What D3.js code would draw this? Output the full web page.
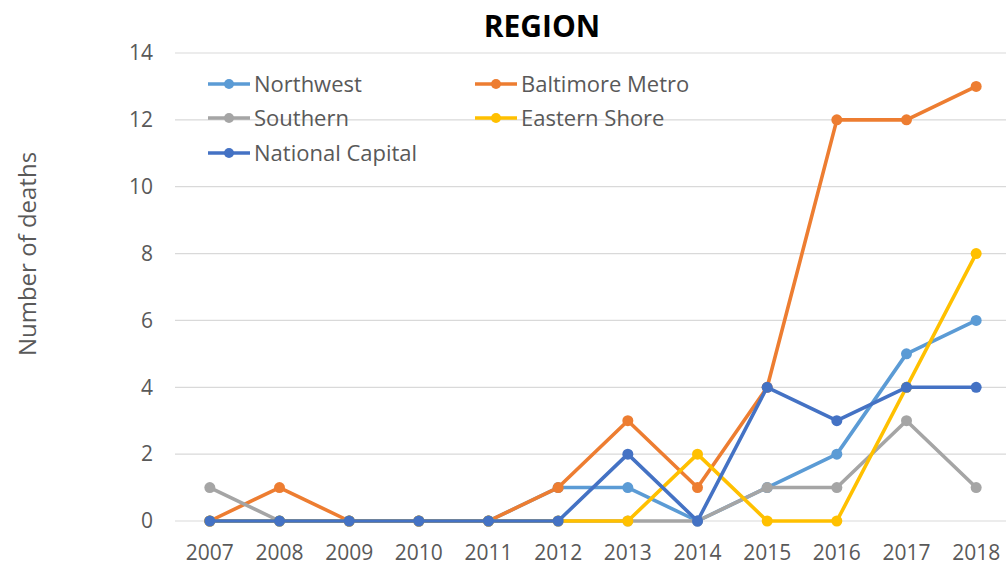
<!DOCTYPE html>
<html><head><meta charset="utf-8">
<script src="https://cdn.jsdelivr.net/npm/d3@7"></script>
<style>body{margin:0;background:#fff}svg{display:block}</style>
</head><body>
<svg id="c" width="1006" height="566"></svg>
<script>
const years = ["2007","2008","2009","2010","2011","2012","2013","2014","2015","2016","2017","2018"];
const northwest = [0,0,0,0,0,1,1,0,1,2,5,6];
const baltimore = [0,1,0,0,0,1,3,1,4,12,12,13];
const southern = [1,0,0,0,0,0,0,0,1,1,3,1];
const easternShore = [0,0,0,0,0,0,0,2,0,0,4,8];
const nationalCapital = [0,0,0,0,0,0,2,0,4,3,4,4];
const yTicks = [0,2,4,6,8,10,12,14];
const seriesNames = ["Northwest","Baltimore Metro","Southern","Eastern Shore","National Capital"];
const seriesColors = ["#5B9BD5","#ED7D31","#A5A5A5","#FFC000","#4472C4"];
const seriesValues = [northwest, baltimore, southern, easternShore, nationalCapital];

(function(){
const svg = d3.select("#c");
const font = "'Open Sans', 'Noto Sans', sans-serif";
const pLeft = 175, pRight = 1011, pTop = 53, pBottom = 521;
const x = d3.scaleBand().domain(years).range([pLeft, pRight]);
const y = d3.scaleLinear().domain([0,14]).range([pBottom, pTop]);

svg.append("g").selectAll("line").data(yTicks).join("line")
  .attr("x1", pLeft).attr("x2", pRight)
  .attr("y1", d=>y(d)).attr("y2", d=>y(d))
  .attr("stroke", "#D9D9D9").attr("stroke-width", 1.2);

const yAxis = d3.axisLeft(y).tickValues(yTicks).tickSize(0).tickPadding(0);
const gy = svg.append("g").attr("transform", `translate(${pLeft-22},0)`).call(yAxis);
gy.select(".domain").remove();
gy.selectAll("text").attr("font-family", font).attr("font-size", 21).attr("fill", "#595959");

const xAxis = d3.axisBottom(x).tickSize(0).tickPadding(0);
const gx = svg.append("g").attr("transform", `translate(0,${pBottom+24})`).call(xAxis);
gx.select(".domain").remove();
gx.selectAll("text").attr("font-family", font).attr("font-size", 21).attr("fill", "#595959");

svg.append("text").attr("x", 542).attr("y", 37).attr("text-anchor", "middle")
  .attr("font-family", font).attr("font-weight", "bold").attr("font-size", 30).attr("fill", "#000")
  .text("REGION");

svg.append("text").attr("transform", "translate(36,254) rotate(-90)").attr("text-anchor", "middle")
  .attr("font-family", font).attr("font-size", 24).attr("fill", "#595959")
  .text("Number of deaths");

const line = d3.line().x((d,i)=>x(years[i]) + x.bandwidth()/2).y(d=>y(d));
seriesValues.forEach((vals, si) => {
  const g = svg.append("g");
  g.append("path").datum(vals).attr("d", line).attr("fill", "none")
    .attr("stroke", seriesColors[si]).attr("stroke-width", 3.6).attr("stroke-linejoin", "round");
  g.selectAll("circle").data(vals).join("circle")
    .attr("cx", (d,i)=>x(years[i]) + x.bandwidth()/2).attr("cy", d=>y(d)).attr("r", 5.5)
    .attr("fill", seriesColors[si]);
});

const legendPos = [[208,84],[475,84],[208,118],[475,118],[208,153]];
seriesNames.forEach((name, i) => {
  const [lx, ly] = legendPos[i];
  const g = svg.append("g");
  g.append("line").attr("x1", lx).attr("x2", lx+42).attr("y1", ly).attr("y2", ly)
    .attr("stroke", seriesColors[i]).attr("stroke-width", 3.6);
  g.append("circle").attr("cx", lx+21).attr("cy", ly).attr("r", 5).attr("fill", seriesColors[i]);
  g.append("text").attr("x", lx+46).attr("y", ly+8).attr("font-family", font)
    .attr("font-size", 22).attr("fill", "#595959").text(name);
});
})();
</script>
</body></html>
